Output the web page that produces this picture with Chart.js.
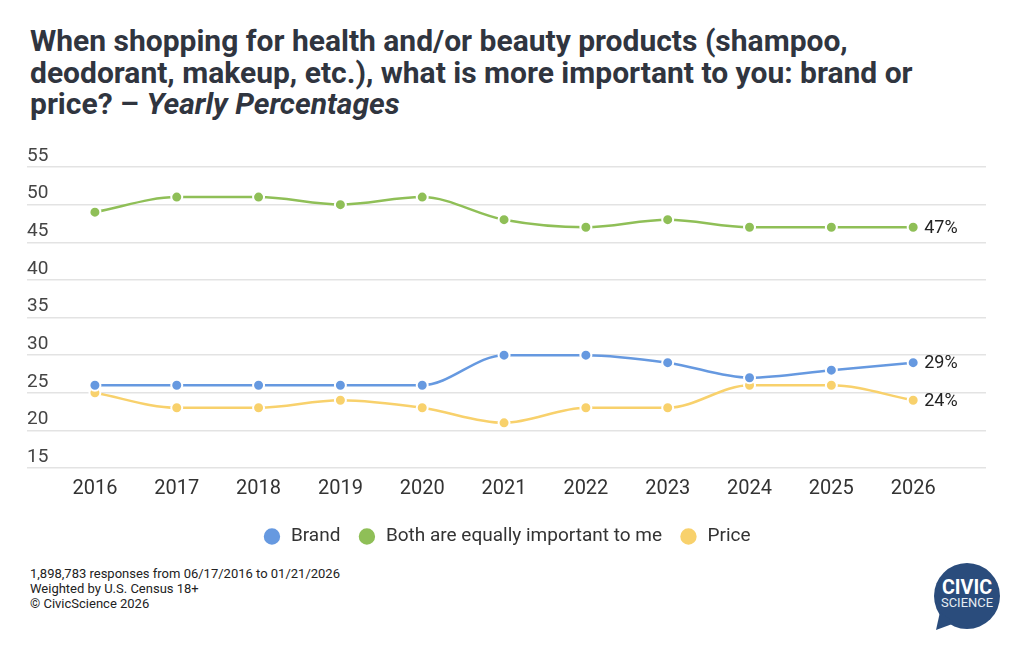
<!DOCTYPE html>
<html>
<head>
<meta charset="utf-8">
<script src="https://cdn.jsdelivr.net/npm/chart.js@4/dist/chart.umd.min.js"></script>
<style>
  html, body { margin: 0; padding: 0; background: #fff; }
  body { width: 1024px; height: 646px; position: relative; overflow: hidden; font-family: Roboto, "Noto Sans", sans-serif; }
  #title { position: absolute; left: 30px; top: 25px; width: 960px; font-size: 30px; font-weight: 700; line-height: 31.5px; color: #30353f; }
  #title i { font-style: italic; }
  #wrap { position: absolute; left: 0; top: 140px; width: 1024px; height: 416px; }
  #foot { position: absolute; left: 30px; top: 566px; font-size: 13px; line-height: 15px; color: #222; }
  #logo { position: absolute; left: 932px; top: 560px; }
</style>
</head>
<body>
<div id="title">When shopping for health and/or beauty products (shampoo, deodorant, makeup, etc.), what is more important to you: brand or price? – <i>Yearly Percentages</i></div>
<div id="wrap"><canvas id="chart"></canvas></div>
<div id="foot">1,898,783 responses from 06/17/2016 to 01/21/2026<br>Weighted by U.S. Census 18+<br>© CivicScience 2026</div>
<svg id="logo" width="74" height="74" viewBox="0 0 74 74">
  <circle cx="35" cy="36" r="33" fill="#2a4c7c"/>
  <path d="M8 52 L4 70 L23 63 Z" fill="#2a4c7c"/>
  <text x="35" y="34" text-anchor="middle" fill="#fff" font-family="Roboto" font-weight="700" font-size="20" textLength="50" lengthAdjust="spacingAndGlyphs">CIVIC</text>
  <text x="35" y="47" text-anchor="middle" fill="#e6ecf3" font-family="Roboto" font-size="12" textLength="52" lengthAdjust="spacingAndGlyphs">SCIENCE</text>
</svg>
<script>
const years = [2016, 2017, 2018, 2019, 2020, 2021, 2022, 2023, 2024, 2025, 2026];
const brand = [26, 26, 26, 26, 26, 30, 30, 29, 27, 28, 29];
const both = [49, 51, 51, 50, 51, 48, 47, 48, 47, 47, 47];
const price = [25, 23, 23, 24, 23, 21, 23, 23, 26, 26, 24];
const yTicks = [15, 20, 25, 30, 35, 40, 45, 50, 55];

const seriesNames = ['Brand', 'Both are equally important to me', 'Price'];
const seriesColors = ['#6699e0', '#8fbf57', '#f8d16c'];

function makeSet(name, values, color) {
    return {
        label: name,
        data: values.map((v, i) => ({x: years[i], y: v})),
        borderColor: color,
        backgroundColor: color,
        borderWidth: 2.5,
        pointRadius: 5.5,
        pointBorderColor: '#fff',
        pointBorderWidth: 2,
        cubicInterpolationMode: 'monotone'
    };
}

// percent label after the last point of each line
const endLabels = {
    id: 'endLabels',
    afterDatasetsDraw(chart) {
        const ctx = chart.ctx;
        ctx.save();
        ctx.font = '18px Roboto';
        ctx.fillStyle = '#222';
        ctx.textBaseline = 'middle';
        chart.data.datasets.forEach((ds, i) => {
            const meta = chart.getDatasetMeta(i);
            const pt = meta.data[meta.data.length - 1];
            const v = ds.data[ds.data.length - 1].y;
            ctx.fillText(v + '%', pt.x + 11, pt.y + 1);
        });
        ctx.restore();
    }
};

new Chart(document.getElementById('chart'), {
    type: 'line',
    data: {
        datasets: [
            makeSet(seriesNames[0], brand, seriesColors[0]),
            makeSet(seriesNames[1], both, seriesColors[1]),
            makeSet(seriesNames[2], price, seriesColors[2])
        ]
    },
    options: {
        responsive: true,
        maintainAspectRatio: false,
        animation: false,
        layout: {padding: {left: 27, right: 38, top: 27, bottom: 0}},
        scales: {
            x: {
                type: 'linear',
                min: 2015.17,
                max: 2026.89,
                afterBuildTicks: axis => { axis.ticks = years.map(y => ({value: y})); },
                grid: {display: false, drawTicks: false, tickLength: 0},
                border: {display: false},
                ticks: {
                    color: '#333',
                    font: {family: 'Roboto', size: 20},
                    padding: 9,
                    callback: v => String(v)
                }
            },
            y: {
                min: 15,
                max: 55,
                afterBuildTicks: axis => { axis.ticks = yTicks.map(v => ({value: v})); },
                grid: {color: '#e3e3e3', lineWidth: 1.5, tickLength: 0},
                border: {display: false},
                ticks: {
                    mirror: true,
                    padding: 0,
                    labelOffset: -11,
                    color: '#444',
                    font: {family: 'Roboto', size: 19}
                }
            }
        },
        plugins: {
            legend: {
                position: 'bottom',
                labels: {
                    usePointStyle: true,
                    pointStyle: 'circle',
                    boxHeight: 13,
                    color: '#333',
                    font: {family: 'Roboto', size: 19},
                    padding: 17
                }
            },
            tooltip: {enabled: false}
        }
    },
    plugins: [endLabels]
});
</script>
</body>
</html>
